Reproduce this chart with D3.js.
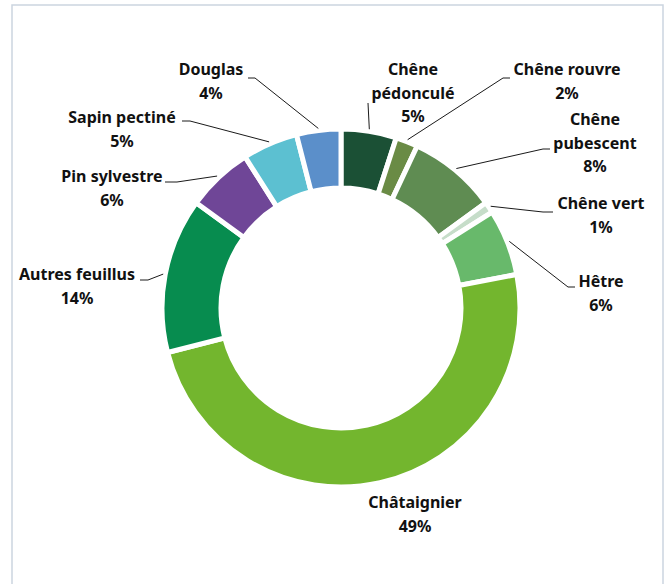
<!DOCTYPE html>
<html lang="fr">
<head>
<meta charset="UTF-8">
<title>Répartition des essences</title>
<script src="https://d3js.org/d3.v7.min.js"></script>
<style>
    html, body { margin: 0; padding: 0; background: #fff; }
    svg { display: block; }
    .lbl { font-family: "Noto Sans", "Open Sans", sans-serif; font-weight: bold; font-size: 16px; fill: #111; }
</style>
</head>
<body>
<svg id="chart" width="667" height="584"></svg>
<script>
// data
const categories = ["Chêne pédonculé", "Chêne rouvre", "Chêne pubescent", "Chêne vert", "Hêtre",
                    "Châtaignier", "Autres feuillus", "Pin sylvestre", "Sapin pectiné", "Douglas"];
const values = [5, 2, 8, 1, 6, 49, 14, 6, 5, 4];
const labelLines = [["Chêne", "pédonculé"], ["Chêne rouvre"], ["Chêne", "pubescent"], ["Chêne vert"], ["Hêtre"],
                    ["Châtaignier"], ["Autres feuillus"], ["Pin sylvestre"], ["Sapin pectiné"], ["Douglas"]];
const colors = ["#1b5035", "#6a8b45", "#5f8c52", "#c6ddc9", "#68b96b",
                "#73b62e", "#078c4f", "#6f4697", "#5cc0d1", "#5b8fca"];

// manual label placement (text centre x, first baseline y, leader stub)
const labelLayout = [
    {x: 413, y: 75,  stub: [368, 103, 368]},
    {x: 567, y: 75,  stub: [510, 78, 503]},
    {x: 595, y: 125, stub: [550, 149, 543]},
    {x: 601, y: 209, stub: [553, 212, 543]},
    {x: 601, y: 287, stub: [575, 287, 568]},
    {x: 415, y: 508, stub: null},
    {x: 77,  y: 280, stub: [140, 280, 148]},
    {x: 112, y: 182, stub: [165, 182, 177]},
    {x: 122, y: 123, stub: [182, 121, 190]},
    {x: 211, y: 75,  stub: [248, 78, 255]}
];

const svg = d3.select("#chart");
const cx = 341, cy = 308, outerR = 179, innerR = 120;

// frame
svg.append("rect")
    .attr("x", 12).attr("y", 5)
    .attr("width", 651).attr("height", 600)
    .attr("fill", "none")
    .attr("stroke", "#cbd5e0")
    .attr("stroke-width", 1.5);

const total = d3.sum(values);
const pie = d3.pie().sort(null).value(d => d)(values);
const arc = d3.arc().innerRadius(innerR).outerRadius(outerR);
const labelArc = d3.arc().innerRadius(outerR + 2).outerRadius(outerR + 2);

const g = svg.append("g").attr("transform", `translate(${cx},${cy})`);

g.selectAll("path.slice")
    .data(pie)
    .join("path")
    .attr("class", "slice")
    .attr("d", arc)
    .attr("fill", (d, i) => colors[i])
    .attr("stroke", "#fff")
    .attr("stroke-width", 5)
    .attr("stroke-linejoin", "miter");

// leader lines
pie.forEach((d, i) => {
    const lay = labelLayout[i];
    if (!lay.stub) return;
    const [px, py] = labelArc.centroid(d);
    const pts = [[lay.stub[0], lay.stub[1]], [lay.stub[2], lay.stub[1]], [cx + px, cy + py]];
    svg.append("path")
        .attr("d", d3.line()(pts))
        .attr("fill", "none")
        .attr("stroke", "#1a1a1a")
        .attr("stroke-width", 1);
});

// labels
pie.forEach((d, i) => {
    const lay = labelLayout[i];
    const lines = labelLines[i].concat([Math.round(values[i] / total * 100) + "%"]);
    const t = svg.append("text")
        .attr("class", "lbl")
        .attr("text-anchor", "middle");
    lines.forEach((s, k) => {
        t.append("tspan")
            .attr("x", lay.x)
            .attr("y", lay.y + k * 23.5)
            .text(s);
    });
});
</script>
</body>
</html>
